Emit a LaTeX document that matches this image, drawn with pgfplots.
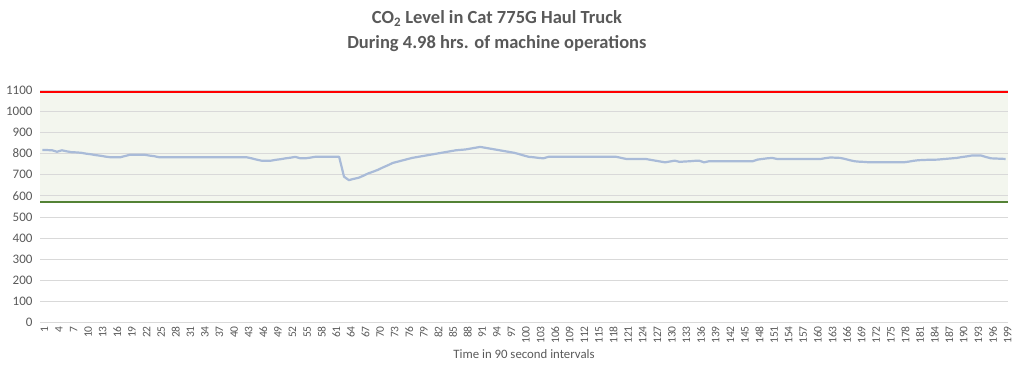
\documentclass[border=0pt]{standalone}
\usepackage{pgfplots}
\pgfplotsset{compat=1.18}
\usepackage{fontspec}
\setmainfont{Carlito}
\definecolor{txt}{HTML}{595959}
\definecolor{gridc}{HTML}{D9D9D9}
\definecolor{lineb}{HTML}{A9BBD8}
\definecolor{okfill}{HTML}{F3F6EE}
\definecolor{lowg}{HTML}{548235}
\begin{document}
\begin{tikzpicture}
\begin{axis}[
  set layers,
  at={(40pt,54.3pt)}, anchor=south west,
  scale only axis, width=968pt, height=232.7pt,
  xmin=0.5, xmax=199.5, ymin=0, ymax=1100,
  xtick={1,4,...,199}, ytick={0,100,...,1100},
  ymajorgrids, grid style={gridc, line width=0.8pt},
  axis line style={draw=none},
  major tick length=0pt,
  x tick label style={rotate=90, anchor=east, font=\fontsize{11.5}{12}\selectfont, text=txt},
  y tick label style={font=\fontsize{13}{14}\selectfont, text=txt},
  xticklabel style={yshift=-2pt},
  yticklabel style={xshift=-4pt},
  /pgf/number format/assume math mode=true,
  /pgf/number format/1000 sep={},
  xlabel={Time in 90 second intervals},
  xlabel style={font=\fontsize{12.8}{14}\selectfont, text=txt, at={(axis description cs:0.5,0)}, anchor=center, yshift=-31pt},
  title={\textbf{CO\textsubscript{2} Level in Cat 775G Haul Truck}\\\textbf{During 4.98 hrs. of machine operations}},
  title style={font=\fontsize{18.5}{25}\selectfont, text=txt, align=center, at={(axis description cs:0.472,1)}, anchor=center, yshift=53pt},
]
\addplot[on layer=axis background, fill=okfill, draw=none] coordinates {(0.5,570) (199.5,570) (199.5,1090) (0.5,1090)} --cycle;
\addplot[red, line width=2.4pt] coordinates {(0.5,1090) (199.5,1090)};
\addplot[lowg, line width=2.4pt] coordinates {(0.5,570) (199.5,570)};
\addplot[lineb, line width=2.2pt, line join=round] coordinates {
(1,816)(2,816)(3,815)(4,808)(5,815)(6,810)(7,806)(8,805)(9,803)(10,799)
(11,796)(12,792)(13,789)(14,785)(15,782)(16,782)(17,782)(18,788)(19,794)(20,794)
(21,794)(22,794)(23,790)(24,787)(25,782)(26,782)(27,782)(28,782)(29,782)(30,782)
(31,782)(32,782)(33,782)(34,782)(35,782)(36,782)(37,782)(38,782)(39,782)(40,782)
(41,782)(42,782)(43,782)(44,777)(45,771)(46,766)(47,766)(48,766)(49,770)(50,773)
(51,777)(52,780)(53,784)(54,777)(55,777)(56,780)(57,784)(58,784)(59,784)(60,784)
(61,784)(62,784)(63,690)(64,674)(65,680)(66,685)(67,695)(68,706)(69,714)(70,723)
(71,734)(72,744)(73,755)(74,761)(75,767)(76,773)(77,779)(78,783)(79,787)(80,791)
(81,795)(82,799)(83,803)(84,807)(85,811)(86,815)(87,817)(88,819)(89,823)(90,827)
(91,831)(92,827)(93,823)(94,819)(95,815)(96,811)(97,807)(98,803)(99,797)(100,790)
(101,784)(102,782)(103,779)(104,777)(105,784)(106,784)(107,784)(108,784)(109,784)(110,784)
(111,784)(112,784)(113,784)(114,784)(115,784)(116,784)(117,784)(118,784)(119,784)(120,779)
(121,774)(122,774)(123,774)(124,774)(125,774)(126,770)(127,766)(128,762)(129,758)(130,762)
(131,766)(132,760)(133,762)(134,763)(135,765)(136,766)(137,758)(138,763)(139,763)(140,763)
(141,763)(142,763)(143,763)(144,763)(145,763)(146,763)(147,763)(148,771)(149,774)(150,777)
(151,779)(152,774)(153,774)(154,774)(155,774)(156,774)(157,774)(158,774)(159,774)(160,774)
(161,774)(162,778)(163,781)(164,780)(165,779)(166,774)(167,768)(168,763)(169,761)(170,760)
(171,758)(172,758)(173,758)(174,758)(175,758)(176,758)(177,758)(178,758)(179,761)(180,765)
(181,768)(182,769)(183,770)(184,770)(185,771)(186,773)(187,775)(188,777)(189,779)(190,783)
(191,786)(192,790)(193,790)(194,790)(195,783)(196,777)(197,776)(198,775)(199,774)
};
\end{axis}
\path (0pt,0pt) rectangle (1024pt,377pt);
\end{tikzpicture}
\end{document}
